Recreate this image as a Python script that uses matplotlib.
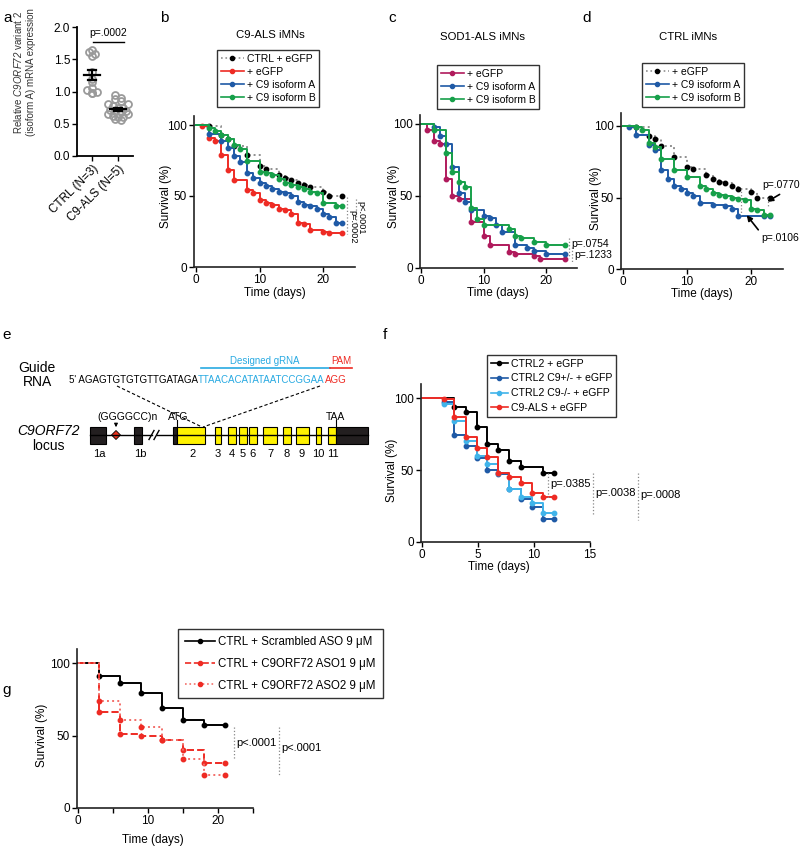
import numpy as np
import matplotlib
matplotlib.use('Agg')
import matplotlib.pyplot as plt
from matplotlib.lines import Line2D
from matplotlib.patches import Rectangle, Polygon

plt.rcParams['font.family'] = ['Liberation Sans', 'DejaVu Sans']
plt.rcParams['mathtext.fontset'] = 'custom'
plt.rcParams['mathtext.it'] = 'Liberation Sans:italic'
plt.rcParams['mathtext.rm'] = 'Liberation Sans:italic'

# ---------------- data ----------------
# panel a
a_groups = ['CTRL (N=3)', 'C9-ALS (N=5)']
a_ctrl = [1.65, 1.62, 1.58, 1.55, 1.30, 1.20, 1.15, 1.05, 1.02, 0.98, 0.97, 1.00]
a_c9 = [0.95, 0.90, 0.88, 0.85, 0.80, 0.78, 0.75, 0.72, 0.70, 0.68, 0.65, 0.62,
        0.60, 0.58, 0.56, 0.60, 0.65, 0.70, 0.75, 0.80]
a_yticks = [0.0, 0.5, 1.0, 1.5, 2.0]

# panel b: C9-ALS iMNs
b_ctrl_t = [2, 4, 5, 6, 8, 10, 11, 13, 14, 15, 16, 17, 18, 20, 21, 23]
b_ctrl_s = [99, 93, 90, 85, 79, 71, 69, 65, 63, 61, 59, 58, 56, 53, 50, 50]
b_egfp_t = [1, 2, 3, 4, 5, 6, 8, 9, 10, 11, 12, 13, 14, 15, 16, 17, 18, 20, 21, 23]
b_egfp_s = [99, 91, 89, 79, 68, 61, 54, 52, 47, 45, 44, 41, 40, 37, 31, 30, 26, 25, 24, 24]
b_isoA_t = [2, 4, 5, 6, 7, 8, 9, 10, 11, 12, 13, 14, 15, 16, 17, 18, 19, 20, 21, 22, 23]
b_isoA_s = [94, 89, 84, 78, 74, 66, 63, 59, 57, 55, 53, 52, 50, 46, 44, 43, 41, 37, 35, 31, 31]
b_isoB_t = [2, 3, 4, 5, 6, 7, 8, 10, 11, 12, 13, 14, 15, 16, 17, 18, 19, 20, 22, 23]
b_isoB_s = [98, 96, 93, 90, 86, 83, 75, 67, 66, 65, 62, 59, 58, 56, 55, 53, 52, 45, 43, 43]

# panel c: SOD1-ALS iMNs
c_egfp_t = [1, 2, 3, 4, 5, 6, 8, 10, 11, 14, 15, 18, 19, 23]
c_egfp_s = [96, 88, 86, 62, 50, 48, 32, 22, 16, 11, 10, 8, 6, 6]
c_isoA_t = [2, 3, 4, 5, 6, 7, 8, 10, 11, 12, 13, 15, 17, 18, 20, 23]
c_isoA_s = [98, 92, 86, 70, 52, 46, 40, 36, 35, 30, 25, 16, 14, 12, 10, 10]
c_isoB_t = [2, 4, 5, 6, 7, 8, 9, 10, 14, 15, 16, 18, 20, 23]
c_isoB_s = [96, 80, 67, 60, 56, 42, 34, 30, 27, 22, 21, 18, 16, 16]

# panel d: CTRL iMNs
d_egfp_t = [2, 4, 5, 6, 8, 10, 11, 13, 14, 15, 16, 17, 18, 20, 21, 23]
d_egfp_s = [99, 93, 91, 86, 78, 71, 70, 66, 63, 61, 60, 58, 56, 54, 50, 50]
d_isoA_t = [1, 2, 4, 5, 6, 7, 8, 9, 10, 11, 12, 14, 16, 17, 18, 22, 23]
d_isoA_s = [99, 94, 87, 83, 69, 63, 58, 56, 53, 51, 46, 45, 44, 42, 37, 37, 37]
d_isoB_t = [2, 3, 4, 5, 6, 8, 10, 12, 13, 14, 15, 16, 17, 18, 19, 20, 21, 22, 23]
d_isoB_s = [99, 97, 88, 85, 77, 69, 64, 58, 56, 53, 52, 51, 50, 49, 48, 42, 41, 38, 38]

# panel f
f_t = [2, 2.9, 3.9, 4.9, 5.8, 6.8, 7.8, 8.8, 9.8, 10.8, 11.8]
f_ctrl2_t = [2.9, 3.9, 4.9, 5.8, 6.8, 7.8, 8.8, 10.8, 11.8]
f_ctrl2_s = [94, 90, 80, 68, 64, 56, 52, 48, 48]
f_het_s = [97, 74, 67, 58, 50, 47, 37, 30, 24, 16, 16]
f_ko_s = [96, 84, 70, 60, 54, 48, 37, 31, 27, 20, 20]
f_als_s = [99, 87, 73, 65, 59, 48, 45, 41, 34, 31, 31]

# panel g
g_t = [3, 6, 9, 12, 15, 18, 21]
g_scr = [91, 86, 79, 69, 61, 57, 57]
g_aso1 = [66, 51, 50, 47, 40, 31, 31]
g_aso2 = [74, 61, 56, 47, 34, 23, 23]

# panel e
exon_labels = ['1a', '1b', '2', '3', '4', '5', '6', '7', '8', '9', '10', '11']
seq_5 = "5' AGAGTGTGTGTTGATAGA"
seq_grna = "TTAACACATATAATCCGGAA"
seq_pam = "AGG"

# ---------------- style ----------------
RED = '#ee2b24'
BLUE = '#1f5aa6'
GREEN = '#17a04a'
MAG = '#b01a5c'
LBLUE = '#40b4ea'
GREYL = '#909090'
CYAN = '#29aae2'
YEL = '#fff200'
DARK = '#231f20'
W, H = 800, 848
TFS = 8.5

fig = plt.figure(figsize=(W / 100, H / 100), dpi=100)


def px_axes(l, t, r, b):
    ax = fig.add_axes([l / W, 1 - b / H, (r - l) / W, (b - t) / H])
    ax.set_facecolor('none')
    return ax


def km_axes(x0, xs, xmin, xmax, y0, ys, ymax):
    ax = px_axes(x0 + xmin * xs, y0 - ymax * ys, x0 + xmax * xs, y0)
    ax.set_xlim(xmin, xmax)
    ax.set_ylim(0, ymax)
    for s in ['top', 'right']:
        ax.spines[s].set_visible(False)
    for s in ['left', 'bottom']:
        ax.spines[s].set_linewidth(1.2)
        ax.spines[s].set_color('#222222')
    ax.set_yticks([0, 50, 100])
    ax.tick_params(labelsize=TFS, length=3.5, width=1, direction='out', pad=1.5)
    ax.tick_params(which='minor', length=3.5, width=1)
    return ax


def km(ax, t, s, color, ls='-', mcolor=None, lw=1.4):
    tt = [0] + list(t)
    ss = [100] + list(s)
    ax.step(tt, ss, where='post', color=color, ls=ls, lw=lw, clip_on=False)
    ax.plot(t, s, 'o', ms=3.2, color=mcolor or color, ls='none', clip_on=False)


def handle(color, ls='-', mcolor=None):
    return Line2D([], [], color=color, ls=ls, lw=1.2, marker='o', ms=3,
                  mfc=mcolor or color, mec=mcolor or color)


def legend(ax, handles, labels, x0, y0, fs=7.5, hl=2.2, ls=0.2, bp=0.35):
    leg = ax.legend(handles, labels, loc='upper left',
                    bbox_to_anchor=(x0 / W, 1 - y0 / H),
                    bbox_transform=fig.transFigure, frameon=True,
                    fancybox=False, edgecolor='black', fontsize=fs,
                    handlelength=hl, handletextpad=0.3, borderpad=bp,
                    labelspacing=ls, borderaxespad=0, numpoints=1)
    leg.get_frame().set_linewidth(1.0)
    return leg


# ---------------- panel a ----------------
axa = px_axes(77, 27, 133, 156)
axa.set_xlim(-0.58, 1.58)
axa.set_ylim(0, 2.0)
for s in ['top', 'right']:
    axa.spines[s].set_visible(False)
for s in ['left', 'bottom']:
    axa.spines[s].set_linewidth(1.3)
axa.set_yticks(a_yticks)
axa.set_yticklabels([f'{v:.1f}' for v in a_yticks])
axa.set_xticks([0, 1])
axa.set_xticklabels(a_groups, rotation=45, ha='right', rotation_mode='anchor')
axa.tick_params(labelsize=TFS, length=3.5, width=1, pad=1.5)


def swarm(vals, binw=0.075, step=0.2):
    vals = np.asarray(vals)
    offs = np.zeros(len(vals))
    bins = np.floor(vals / binw)
    for bb in np.unique(bins):
        idx = np.where(bins == bb)[0]
        n = len(idx)
        offs[idx] = (np.arange(n) - (n - 1) / 2) * step
    return offs


for i, vals in enumerate([a_ctrl, a_c9]):
    v = np.asarray(vals)
    axa.plot(i + swarm(v), v, 'o', ms=5, mfc='none', mec='#9a9a9a', mew=1.3,
             clip_on=False)
    m = v.mean()
    se = v.std(ddof=1) / np.sqrt(len(v))
    axa.plot([i - 0.3, i + 0.3], [m, m], color='k', lw=1.6)
    axa.plot([i, i], [m - se, m + se], color='k', lw=1.6)
    axa.plot([i - 0.16, i + 0.16], [m + se, m + se], color='k', lw=1.6)
    axa.plot([i - 0.16, i + 0.16], [m - se, m - se], color='k', lw=1.6)
axa.plot([0.05, 1.25], [1.77, 1.77], color='k', lw=1)
axa.text(0.62, 1.83, 'p=.0002', ha='center', va='bottom', fontsize=7.5)

# ---------------- panel b ----------------
axb = km_axes(196, 6.35, -0.3, 25, 267, 1.42, 106)
axb.set_xticks([0, 10, 20])
km(axb, b_ctrl_t, b_ctrl_s, GREYL, ls=':', mcolor='k')
km(axb, b_egfp_t, b_egfp_s, RED)
km(axb, b_isoA_t, b_isoA_s, BLUE)
km(axb, b_isoB_t, b_isoB_s, GREEN)
legend(axb, [handle(GREYL, ':', 'k'), handle(RED), handle(BLUE), handle(GREEN)],
       ['CTRL + eGFP', '+ eGFP', '+ C9 isoform A', '+ C9 isoform B'], 217, 50,
       ls=0.3)

# ---------------- panel c ----------------
axc = km_axes(421, 6.25, -0.2, 25, 268, 1.44, 106)
axc.set_xticks([0, 10, 20])
km(axc, c_egfp_t, c_egfp_s, MAG)
km(axc, c_isoA_t, c_isoA_s, BLUE)
km(axc, c_isoB_t, c_isoB_s, GREEN)
legend(axc, [handle(MAG), handle(BLUE), handle(GREEN)],
       ['+ eGFP', '+ C9 isoform A', '+ C9 isoform B'], 437, 65, ls=0.3)

# ---------------- panel d ----------------
axd = km_axes(623, 6.4, -0.3, 25, 269, 1.43, 109)
axd.set_xticks([0, 10, 20])
km(axd, d_egfp_t, d_egfp_s, GREYL, ls=':', mcolor='k')
km(axd, d_isoA_t, d_isoA_s, BLUE)
km(axd, d_isoB_t, d_isoB_s, GREEN)
legend(axd, [handle(GREYL, ':', 'k'), handle(BLUE), handle(GREEN)],
       ['+ eGFP', '+ C9 isoform A', '+ C9 isoform B'], 642, 63, ls=0.3)

# ---------------- panel f ----------------
axf = km_axes(422, 11.2, -0.1, 15, 542, 1.44, 110)
axf.set_xticks([0, 5, 10, 15])
km(axf, f_ctrl2_t, f_ctrl2_s, 'k')
km(axf, f_t, f_het_s, BLUE)
km(axf, f_t, f_ko_s, LBLUE)
km(axf, f_t, f_als_s, RED)
legend(axf, [handle('k'), handle(BLUE), handle(LBLUE), handle(RED)],
       ['CTRL2 + eGFP', 'CTRL2 C9+/- + eGFP', 'CTRL2 C9-/- + eGFP', 'C9-ALS + eGFP'],
       487, 355, fs=7.6, hl=1.6, ls=0.45)

# ---------------- panel g ----------------
axg = km_axes(78, 7.0, -0.2, 25, 808, 1.45, 110)
axg.set_xticks([0, 10, 20])
axg.set_xticks([5, 15, 25], minor=True)
km(axg, g_t, g_scr, 'k')
km(axg, g_t, g_aso1, RED, ls='--')
km(axg, g_t, g_aso2, '#f36f6a', ls=':', mcolor=RED)
legend(axg, [handle('k'), handle(RED, '--'), handle('#f36f6a', ':', RED)],
       ['CTRL + Scrambled ASO 9 \u03bcM', 'CTRL + C9ORF72 ASO1 9 \u03bcM',
        'CTRL + C9ORF72 ASO2 9 \u03bcM'], 178, 629, fs=8.3, hl=2.6, ls=0.85,
       bp=0.6)

# ---------------- overlay (text, annotations, diagram) ----------------
ov = fig.add_axes([0, 0, 1, 1], facecolor='none')
ov.set_xlim(0, W)
ov.set_ylim(H, 0)
ov.axis('off')

for lab, x, y in [('a', 3, 18), ('b', 160, 18), ('c', 388, 18), ('d', 582, 18),
                  ('e', 2, 335), ('f', 383, 335), ('g', 2, 690)]:
    ov.text(x, y, lab, fontsize=11, ha='left', va='center')

ov.text(24, 72, 'Relative $C9ORF72$ variant 2\n(isoform A) mRNA expression',
        rotation=90, ha='center', va='center', fontsize=7.0, color='#333333',
        linespacing=1.25)

for txt, x, y in [('C9-ALS iMNs', 270, 35), ('SOD1-ALS iMNs', 482, 37),
                  ('CTRL iMNs', 688, 37)]:
    ov.text(x, y, txt, ha='center', va='center', fontsize=8.2)

for x, y in [(166, 196), (394, 196), (596, 198), (392, 470), (42, 735)]:
    ov.text(x, y, 'Survival (%)', rotation=90, ha='center', va='center', fontsize=8.5)
for x, y in [(275, 293), (498, 293), (702, 294), (499, 567), (153, 840)]:
    ov.text(x, y, 'Time (days)', ha='center', va='center', fontsize=8.5)

pk = dict(color='#888888', lw=0.9, ls=':')
# b
ov.plot([347, 347], [197, 234], **pk)
ov.plot([356, 356], [199, 226], **pk)
ov.text(352.5, 227, 'p=.0002', rotation=-90, ha='center', va='center', fontsize=6.6)
ov.text(360.5, 218, 'p<.0001', rotation=-90, ha='center', va='center', fontsize=6.6)
# c
ov.plot([569, 569], [238, 258], **pk)
ov.plot([572, 572], [247, 262], **pk)
ov.text(571, 244, 'p=.0754', ha='left', va='center', fontsize=7.5)
ov.text(574, 255, 'p=.1233', ha='left', va='center', fontsize=7.5)
# d
ov.plot([741, 741], [188, 215], **pk)
ov.plot([768, 768], [198, 206], **pk)
ov.text(781, 185, 'p=.0770', ha='center', va='center', fontsize=7.5)
ov.text(780, 238, 'p=.0106', ha='center', va='center', fontsize=7.5)
ov.annotate('', xy=(765, 203), xytext=(782, 193),
            arrowprops=dict(arrowstyle='-|>', color='k', lw=1.2, mutation_scale=8))
ov.annotate('', xy=(745, 213), xytext=(760, 232),
            arrowprops=dict(arrowstyle='-|>', color='k', lw=1.2, mutation_scale=8))
# f
ov.plot([548, 548], [473, 498], **pk)
ov.plot([593, 593], [473, 515], **pk)
ov.plot([638, 638], [473, 520], **pk)
ov.text(550, 484, 'p=.0385', ha='left', va='center', fontsize=8)
ov.text(595, 493, 'p=.0038', ha='left', va='center', fontsize=8)
ov.text(640, 495, 'p=.0008', ha='left', va='center', fontsize=8)
# g
ov.plot([234, 234], [727, 760], **pk)
ov.plot([279, 279], [727, 775], **pk)
ov.text(236, 743, 'p<.0001', ha='left', va='center', fontsize=8)
ov.text(281, 748, 'p<.0001', ha='left', va='center', fontsize=8)

# ---------------- panel e diagram ----------------
ov.text(37, 375, 'Guide\nRNA', ha='center', va='center', fontsize=10, linespacing=1.05)
t1 = ov.text(69, 383, seq_5, ha='left', va='baseline', fontsize=7.0)
t2 = ov.annotate(seq_grna, xy=(1, 0), xycoords=t1, ha='left', va='bottom',
                 fontsize=7.0, color=CYAN)
t3 = ov.annotate(seq_pam, xy=(1, 0), xycoords=t2, ha='left', va='bottom',
                 fontsize=7.0, color=RED)
ov.plot([201, 330], [368, 368], color=CYAN, lw=1.2)
ov.plot([330, 352], [368, 368], color=RED, lw=1.2)
ov.text(265, 361, 'Designed gRNA', ha='center', va='center', fontsize=7, color=CYAN)
ov.text(341, 361, 'PAM', ha='center', va='center', fontsize=7, color=RED)
ov.plot([117, 202], [386, 427], color='k', lw=0.8, ls=(0, (3, 2)))
ov.plot([320, 203], [386, 427], color='k', lw=0.8, ls=(0, (3, 2)))

ov.text(48, 431, 'C9ORF72', ha='center', va='center', fontsize=10, fontstyle='italic')
ov.text(48, 446, 'locus', ha='center', va='center', fontsize=10)

ov.plot([90, 151.5], [435, 435], color='k', lw=1)
ov.plot([156.5, 368], [435, 435], color='k', lw=1)
ov.plot([149, 154], [439.5, 430.5], color='k', lw=1)
ov.plot([154, 159], [439.5, 430.5], color='k', lw=1)

boxes = [(90, 106, DARK), (134, 142, DARK), (173, 177, DARK), (177, 205, YEL),
         (215, 221, YEL), (228, 236, YEL), (239, 247, YEL), (249, 257, YEL),
         (263, 277, YEL), (283, 291, YEL), (296, 309, YEL), (316, 321, YEL),
         (328, 336, YEL), (336, 368, DARK)]
for x0, x1, c in boxes:
    ov.add_patch(Rectangle((x0, 427), x1 - x0, 17, fc=c, ec='k', lw=0.8))
ov.add_patch(Polygon([(116, 430.5), (120.5, 435), (116, 439.5), (111.5, 435)],
                     closed=True, fc='#e8321e', ec='k', lw=0.6))
ov.annotate('', xy=(116, 430), xytext=(116, 421),
            arrowprops=dict(arrowstyle='-|>', color='k', lw=0.8, mutation_scale=5))
ov.text(128, 417, '(GGGGCC)n', ha='center', va='center', fontsize=7.5)
ov.plot([177, 177], [420, 427], color='k', lw=0.8)
ov.text(178, 417, 'ATG', ha='center', va='center', fontsize=7.5)
ov.plot([336, 336], [420, 427], color='k', lw=0.8)
ov.text(335, 417, 'TAA', ha='center', va='center', fontsize=7.5)
for lab, x in zip(exon_labels, [99, 140, 193, 218, 232, 243, 253, 270, 287, 302, 318, 333]):
    ov.text(x, 454, lab, ha='center', va='center', fontsize=8)

fig.savefig('out.png', dpi=100)
